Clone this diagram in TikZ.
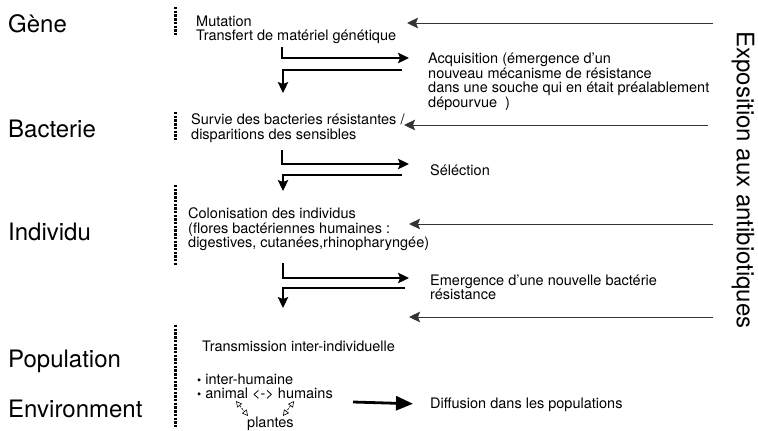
\documentclass[tikz,border=0pt]{standalone}
\usepackage{fontspec}
\setmainfont{TeX Gyre Heros}
\usetikzlibrary{arrows.meta}
\newcommand{\smallbul}{{\fontsize{12}{12}\selectfont\textbullet}}
\begin{document}
\begin{tikzpicture}[x=1pt,y=-1pt,
  big/.style={font=\fontsize{24}{24}\selectfont, inner sep=0pt, anchor=base west},
  small/.style={font=\fontsize{14.5}{14.5}\selectfont, align=left, inner sep=0pt, anchor=north west},
  dots/.style={line width=3pt, dash pattern=on 2.4pt off 1.3pt},
  tip/.style={-{Stealth[length=11pt,width=10.5pt,inset=2pt]}},
  expo/.style={tip, draw=black!80, line width=0.9pt},
  gofwd/.style={tip, line width=1.5pt},
  goback/.style={tip, line width=1.1pt},
  dashdouble/.style={dash pattern=on 2pt off 1.2pt, line width=0.6pt, {Triangle[open,length=6pt,width=6pt]}-{Triangle[open,length=6pt,width=6pt]}},
  bigarrow/.style={line width=2.8pt, -{Triangle[length=17pt,width=14pt]}}
]
\useasboundingbox (0,0) rectangle (758,431);

% left level labels
\node[big] (lgene) at (8,32) {Gène};
\node[big] (lbact) at (8,137) {Bacterie};
\node[big] (lind)  at (8,240) {Individu};
\node[big] (lpop)  at (8,367) {Population};
\node[big] (lenv)  at (8,417) {Environment};

% dotted separators
\draw[dots] (175,7) -- (175,35);
\draw[dots] (175,112) -- (175,140);
\draw[dots] (175,185) -- (175,265);
\draw[dots] (175,325) -- (175,428);

% text blocks
\node[small] (mut) at (196,14) {\rule{0pt}{12pt}Mutation\\Transfert de matériel génétique};
\node[small] (acq) at (428,51.5) {\rule{0pt}{12pt}Acquisition (émergence d’un\\nouveau mécanisme de résistance\\dans une souche qui en était préalablement\\dépourvue~ )};
\node[small] (surv) at (191,112.5) {\rule{0pt}{12pt}Survie des bacteries résistantes /\\disparitions des sensibles};
\node[small] (sel) at (430,163) {\rule{0pt}{12pt}Séléction};
\node[small] (colo) at (188,206.5) {\rule{0pt}{12pt}Colonisation des individus\\(flores bactériennes humaines :\\digestives, cutanées,rhinopharyngée)};
\node[small] (emer) at (430,273) {\rule{0pt}{12pt}Emergence d’une nouvelle bactérie\\résistance};
\node[small] (trans) at (202,339) {\rule{0pt}{12pt}Transmission inter-individuelle};
\node[small] (bul) at (197,372) {\rule{0pt}{12pt}\smallbul\ inter-humaine\\\smallbul\ animal <-> humains};
\node[small] (plant) at (247,415) {\rule{0pt}{12pt}plantes};
\node[small] (diff) at (430,396) {\rule{0pt}{12pt}Diffusion dans les populations};

% vertical title
\node[font=\fontsize{24}{24}\selectfont, rotate=-90, inner sep=0pt] (expo) at (743,180) {Exposition aux antibiotiques};

% exposure arrows
\coordinate (e1s) at (713,23);  \coordinate (e1e) at (407,23);
\coordinate (e2s) at (708,125); \coordinate (e2e) at (404,125);
\coordinate (e3s) at (713,224); \coordinate (e3e) at (409,224);
\coordinate (e4s) at (713,317); \coordinate (e4e) at (409,317);
\draw[expo] (e1s) -- (e1e);
\draw[expo] (e2s) -- (e2e);
\draw[expo] (e3s) -- (e3e);
\draw[expo] (e4s) -- (e4e);

% bent arrows
\coordinate (b1s) at (282,47);  \coordinate (b1e) at (409,58);
\coordinate (c1s) at (402,70);  \coordinate (c1e) at (283,93);
\coordinate (b2s) at (282,150); \coordinate (b2e) at (409,164);
\coordinate (c2s) at (402,175); \coordinate (c2e) at (283,191);
\coordinate (b3s) at (283,263); \coordinate (b3e) at (409,278);
\coordinate (c3s) at (405,288); \coordinate (c3e) at (283,308);
\draw[gofwd] (b1s) |- (b1e);
\draw[goback] (c1s) -| (c1e);
\draw[gofwd] (b2s) |- (b2e);
\draw[goback] (c2s) -| (c2e);
\draw[gofwd] (b3s) |- (b3e);
\draw[goback] (c3s) -| (c3e);

% plantes exchanges
\coordinate (pl1a) at (236,401); \coordinate (pl1b) at (248,416);
\coordinate (pl2a) at (294,401); \coordinate (pl2b) at (283,416);
\draw[dashdouble] (pl1a) -- (pl1b);
\draw[dashdouble] (pl2a) -- (pl2b);

% diffusion arrow
\coordinate (dfs) at (353,402);
\draw[bigarrow] (dfs) -- (diff.west -| 413,0);
\end{tikzpicture}
\end{document}
